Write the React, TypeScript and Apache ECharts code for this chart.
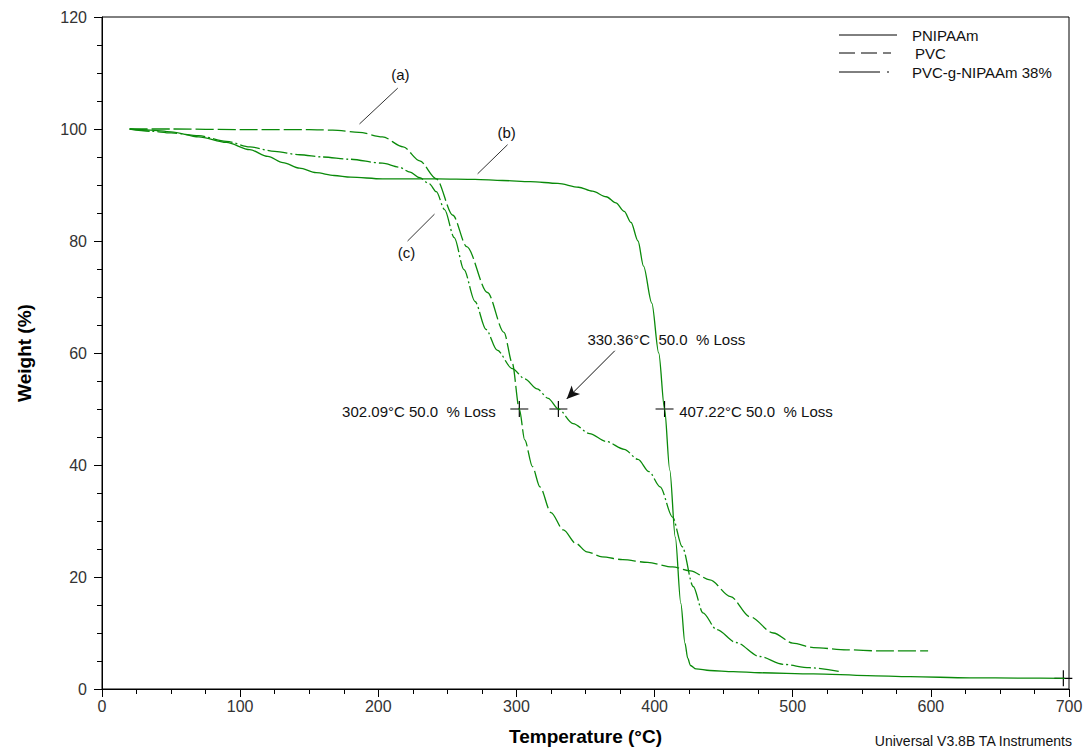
import React, { useEffect, useRef } from "react";
import * as echarts from "echarts";

// ---- data ----
const pnipaamTemp = [20, 35, 50, 70, 90, 107, 120, 131, 143, 155, 168, 180, 203, 243, 270, 290, 310, 330, 345, 355, 365, 372, 378, 383, 388, 392, 398, 403, 407.22, 411, 415, 419, 422, 424, 426, 430, 440, 457, 476, 515, 554, 585, 628, 665, 697];
const pnipaamWeight = [100, 99.8, 99.5, 98.6, 97.6, 96.3, 95.1, 94.0, 93.0, 92.2, 91.7, 91.4, 91.1, 91.1, 91.0, 90.8, 90.6, 90.3, 89.6, 88.9, 87.9, 86.8, 85.3, 83.3, 80.0, 75.5, 68.9, 60.0, 50.0, 39.1, 27.1, 15.3, 8.2, 5.5, 4.2, 3.6, 3.3, 3.1, 2.9, 2.7, 2.4, 2.2, 2.0, 1.95, 1.9];

const pvcTemp = [20, 50, 100, 150, 167, 186, 203, 218, 230, 242, 254, 264, 279, 291, 297, 302.09, 306, 311.6, 317, 325, 334, 343, 351, 362, 377, 395, 413, 426, 440, 455, 469, 486, 500, 515, 539, 563, 598];
const pvcWeight = [100, 100, 99.9, 99.9, 99.8, 99.4, 98.6, 96.8, 94.3, 91.1, 84.6, 79.0, 70.8, 63.7, 58.2, 50.0, 44.5, 39.7, 36.1, 31.5, 28.4, 26.0, 24.5, 23.6, 23.1, 22.6, 21.8, 21.1, 19.5, 16.5, 12.9, 10.0, 8.2, 7.4, 7.0, 6.8, 6.8];

const graftTemp = [20, 35, 50, 70, 90, 107, 125, 143, 160, 179, 203, 215, 223, 230, 237, 242, 248, 255, 262, 270, 278, 286, 297, 306, 315, 323, 330.36, 341, 353, 365, 378, 388, 396, 404, 413, 420, 428, 435, 445, 459, 476, 493, 512, 534];
const graftWeight = [100, 99.6, 99.3, 98.8, 97.8, 96.8, 96.0, 95.4, 95.0, 94.6, 93.9, 93.2, 92.3, 91.3, 90.2, 88.8, 85.6, 80.6, 74.9, 69.2, 64.2, 60.5, 57.2, 55.4, 53.6, 51.9, 50.0, 47.4, 45.6, 44.2, 42.8, 41.0, 38.8, 36.1, 30.7, 25.4, 18.3, 13.6, 10.6, 8.3, 5.8, 4.4, 3.8, 3.1];

const seriesNames = ["PNIPAAm", "PVC", "PVC-g-NIPAAm 38%"];
const xTicks = { min: 0, max: 700, interval: 100 };
const yTicks = { min: 0, max: 120, interval: 20 };

// 50 % loss points
const lossTemps = [302.09, 330.36, 407.22];
const lossWeight = 50.0;
const endPoint = [695.9, 1.9];

// annotation labels and leader lines (data coordinates)
const noteLabels = ["(a)", "(b)", "(c)", "330.36°C  50.0  % Loss"];
const notePositions = [[216, 109.7], [292.9, 99.3], [220.4, 77.9], [351, 62.5]];
const leaderLines = [
  [[186.4, 100.9], [214.1, 107.3]],
  [[271.9, 92.0], [293.6, 97.2]],
  [[221.2, 80.0], [240.7, 84.8]],
];
const arrowLine = [[371.2, 60.4], [336.4, 51.8]];

const FONT = "Liberation Sans, Arial, Helvetica, sans-serif";
const GREEN = "#0a8a0a";
const TEXT = "#111";

const zip = (a: number[], b: number[]) => a.map((v, i) => [v, b[i]]);

export default function App() {
  const ref = useRef<HTMLDivElement>(null);

  useEffect(() => {
    if (!ref.current) return;
    const chart = echarts.init(ref.current, null, { renderer: "svg" });

    const axisCommon = {
      type: "value" as const,
      axisLine: { show: true, lineStyle: { color: "#000", width: 1 } },
      axisTick: { show: true, inside: false, length: 8, lineStyle: { color: "#000", width: 1 } },
      minorTick: { show: true, splitNumber: 4, length: 5, lineStyle: { color: "#000", width: 1 } },
      splitLine: { show: false },
      minorSplitLine: { show: false },
    };

    const lineCommon = {
      type: "line" as const,
      showSymbol: false,
      smooth: 0.3,
      smoothMonotone: "x",
      silent: true,
    };

    const option: any = {
      animation: false,
      backgroundColor: "#fff",
      textStyle: { fontFamily: FONT },
      grid: { left: 102, right: 17, top: 17, bottom: 62, show: true, borderColor: "#000", borderWidth: 1, backgroundColor: "transparent" },
      xAxis: {
        ...axisCommon,
        min: xTicks.min,
        max: xTicks.max,
        interval: xTicks.interval,
        axisLabel: { color: "#333", fontSize: 16, margin: 9, fontFamily: FONT },
        name: "Temperature (°C)",
        nameLocation: "middle",
        nameGap: 38,
        nameTextStyle: { color: "#000", fontSize: 19, fontWeight: "bold", fontFamily: FONT },
      },
      yAxis: {
        ...axisCommon,
        min: yTicks.min,
        max: yTicks.max,
        interval: yTicks.interval,
        axisLabel: { color: "#333", fontSize: 16, margin: 15, fontFamily: FONT },
        name: "Weight (%)",
        nameLocation: "middle",
        nameGap: 68,
        nameTextStyle: { color: "#000", fontSize: 19, fontWeight: "bold", fontFamily: FONT },
      },
      series: [
        {
          ...lineCommon,
          name: seriesNames[0],
          data: zip(pnipaamTemp, pnipaamWeight),
          lineStyle: { color: GREEN, width: 1.3, type: "solid" },
          markLine: {
            silent: true,
            symbol: ["none", "none"],
            label: { show: false },
            lineStyle: { color: "#333", width: 1, type: "solid" },
            data: leaderLines.map((l) => [{ coord: l[0] }, { coord: l[1] }]),
          },
        },
        {
          ...lineCommon,
          name: seriesNames[1],
          data: zip(pvcTemp, pvcWeight),
          lineStyle: { color: GREEN, width: 1.3, type: [18, 4] },
          markLine: {
            silent: true,
            symbol: ["none", "arrow"],
            symbolSize: [9, 13],
            label: { show: false },
            lineStyle: { color: "#111", width: 1, type: "solid" },
            itemStyle: { color: "#000" },
            data: [[{ coord: arrowLine[0] }, { coord: arrowLine[1] }]],
          },
        },
        {
          ...lineCommon,
          name: seriesNames[2],
          data: zip(graftTemp, graftWeight),
          lineStyle: { color: GREEN, width: 1.3, type: [20, 3, 2, 3] },
        },
        {
          name: "50% loss",
          type: "scatter",
          silent: true,
          symbol: "path://M0,8L18,8M9,0L9,16",
          symbolSize: [18, 16],
          itemStyle: { color: "transparent", borderColor: "#000", borderWidth: 1.1, opacity: 1 },
          data: [
            {
              value: [lossTemps[0], lossWeight],
              label: { show: true, position: "left", distance: 14, formatter: lossTemps[0].toFixed(2) + "°C 50.0  % Loss", offset: [0, 2] },
            },
            { value: [lossTemps[1], lossWeight] },
            {
              value: [lossTemps[2], lossWeight],
              label: { show: true, position: "right", distance: 5, formatter: lossTemps[2].toFixed(2) + "°C 50.0  % Loss", offset: [0, 2] },
            },
            { value: endPoint },
          ],
          label: { color: TEXT, fontSize: 15, fontFamily: FONT, opacity: 1 },
        },
        {
          name: "notes",
          type: "scatter",
          silent: true,
          symbolSize: 1,
          itemStyle: { color: "transparent", opacity: 1 },
          label: { show: true, position: "inside", formatter: "{b}", color: TEXT, fontSize: 15, fontFamily: FONT, opacity: 1 },
          data: noteLabels.map((n, i) => ({
            name: n,
            value: notePositions[i],
            label: i === 3 ? { position: "right", distance: 0 } : undefined,
          })),
        },
      ],
      graphic: [
        // legend
        { type: "line", shape: { x1: 839, y1: 35, x2: 897, y2: 35 }, style: { stroke: "#000", lineWidth: 1 } },
        { type: "line", shape: { x1: 839, y1: 53, x2: 891, y2: 53 }, style: { stroke: "#000", lineWidth: 1, lineDash: [16, 6] } },
        { type: "line", shape: { x1: 839, y1: 72, x2: 890, y2: 72 }, style: { stroke: "#000", lineWidth: 1, lineDash: [41, 7, 2, 100] } },
        { type: "text", x: 912, y: 35, style: { text: seriesNames[0], fill: TEXT, font: `15px ${FONT}`, verticalAlign: "middle" } },
        { type: "text", x: 915, y: 53, style: { text: seriesNames[1], fill: TEXT, font: `15px ${FONT}`, verticalAlign: "middle" } },
        { type: "text", x: 912, y: 72, style: { text: seriesNames[2], fill: TEXT, font: `15px ${FONT}`, verticalAlign: "middle" } },
        // footer
        { type: "text", right: 13, top: 734, style: { text: "Universal V3.8B TA Instruments", fill: TEXT, font: `14px ${FONT}` } },
      ],
    };

    chart.setOption(option);
    return () => chart.dispose();
  }, []);

  return (
    <div
      ref={ref}
      style={{ position: "fixed", left: 0, top: 0, width: 1086, height: 751, background: "#fff" }}
    />
  );
}
